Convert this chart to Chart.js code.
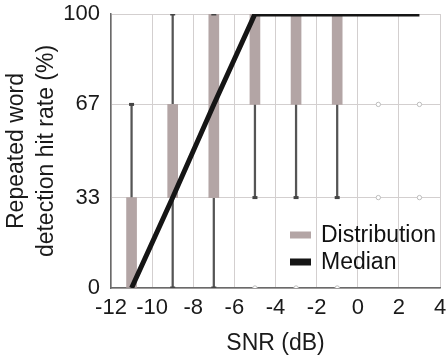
<!DOCTYPE html>
<html>
<head>
<meta charset="utf-8">
<script src="https://cdn.jsdelivr.net/npm/chart.js@4/dist/chart.umd.min.js"></script>
<style>
  html, body { margin: 0; padding: 0; background: #ffffff; }
  #wrap { width: 447px; height: 360px; }
</style>
</head>
<body>
<div id="wrap"><canvas id="c" width="447" height="360"></canvas></div>
<script>
// ---- data ----
const snr        = [-11, -9, -7, -5, -3, -1, 1, 3];        // SNR (dB)
const boxLow     = [0, 33, 33, 67, 67, 67, 100, 100];      // 25th percentile
const boxHigh    = [33, 67, 100, 100, 100, 100, 100, 100]; // 75th percentile
const whiskerLow = [0, 0, 0, 33, 33, 33, 100, 100];
const whiskerHigh= [67, 100, 100, 100, 100, 100, 100, 100];
const medians    = [0, 33, 67, 100, 100, 100, 100, 100];
const outlierSnr = [-5, -3, -1, 1, 1, 3, 3];
const outlierVal = [0, 0, 0, 67, 33, 67, 33];
const yTicks     = [0, 33, 67, 100];
const xMin = -12, xMax = 4, xStep = 2;

const boxColor = '#b3a5a5';
const whiskColor = '#555555';
const FONT = '"Liberation Sans", Arial, Helvetica, sans-serif';

const boxData = [], whiskData = [], capData = [];
snr.forEach((x, i) => {
  if (boxHigh[i] > boxLow[i]) boxData.push({x: x, y: [boxLow[i], boxHigh[i]]});
  if (boxLow[i] > whiskerLow[i]) { whiskData.push({x: x, y: [whiskerLow[i], boxLow[i]]}); capData.push({x: x, y: whiskerLow[i]}); }
  if (whiskerHigh[i] > boxHigh[i]) { whiskData.push({x: x, y: [boxHigh[i], whiskerHigh[i]]}); capData.push({x: x, y: whiskerHigh[i]}); }
});
snr.forEach((x, i) => {
  if (boxHigh[i] === 100 && whiskerHigh[i] === 100 && boxLow[i] < 100) capData.push({x: x, y: 100});
});
const outData = outlierSnr.map((x, i) => ({x: x, y: outlierVal[i]}));
const medData = snr.map((x, i) => ({x: x, y: medians[i]}));

const legendItems = [
  {label: 'Distribution', color: boxColor},
  {label: 'Median', color: '#151515'}
];

const legendPlugin = {
  id: 'insideLegend',
  afterDraw(chart) {
    const ctx = chart.ctx;
    ctx.save();
    ctx.font = '23px ' + FONT;
    ctx.textBaseline = 'middle';
    ctx.textAlign = 'left';
    const ys = [235, 262];
    legendItems.forEach((it, k) => {
      ctx.fillStyle = it.color;
      ctx.fillRect(290, ys[k] - 3.5, 21, 7);
      ctx.fillStyle = '#111111';
      ctx.fillText(it.label, 321, ys[k] + 1);
    });
    ctx.restore();
  }
};

new Chart(document.getElementById('c'), {
  type: 'bar',
  data: {
    datasets: [
      {
        type: 'line', label: 'Median', data: medData, order: 0,
        borderColor: '#151515', borderWidth: 5, pointRadius: 0,
        borderJoinStyle: 'miter', borderCapStyle: 'butt', tension: 0, fill: false
      },
      {
        type: 'scatter', label: 'outliers', data: outData, order: 1,
        pointStyle: 'circle', pointRadius: 2.2, borderWidth: 1,
        borderColor: '#bdbdbd', backgroundColor: '#ffffff'
      },
      {
        type: 'scatter', label: 'caps', data: capData, order: 2,
        pointStyle: 'line', pointRadius: 2.5, borderWidth: 3,
        borderColor: '#444444'
      },
      {
        type: 'bar', label: 'Distribution', data: boxData, order: 3,
        backgroundColor: boxColor, barThickness: 10, grouped: false, borderWidth: 0
      },
      {
        type: 'bar', label: 'whiskers', data: whiskData, order: 4,
        backgroundColor: whiskColor, barThickness: 1.6, grouped: false, borderWidth: 0
      }
    ]
  },
  options: {
    responsive: false,
    animation: false,
    devicePixelRatio: 1,
    layout: { padding: { left: 0, right: 6, top: 14, bottom: 0 } },
    plugins: { legend: { display: false }, tooltip: { enabled: false } },
    scales: {
      x: {
        type: 'linear', min: xMin, max: xMax, offset: false,
        ticks: { stepSize: xStep, color: '#1a1a1a', font: { family: FONT, size: 22 }, padding: 7,
                 maxRotation: 0, autoSkip: false },
        grid: { color: '#d3cfcf', lineWidth: 1, drawTicks: false, offset: false },
        border: { color: '#6a6a6a', width: 1.5 },
        title: { display: true, text: 'SNR (dB)', color: '#1a1a1a',
                 font: { family: FONT, size: 23, lineHeight: 1.2 }, padding: { top: 0, bottom: 3 } },
        afterFit(scale) { scale.height = 72; scale.paddingLeft = 0; scale.paddingRight = 0; }
      },
      y: {
        type: 'linear', min: 0, max: 100,
        afterBuildTicks(scale) { scale.ticks = yTicks.map(v => ({value: v})); },
        ticks: { color: '#1a1a1a', font: { family: FONT, size: 22 }, padding: 11,
                 callback: v => String(v) },
        grid: { color: '#d3cfcf', lineWidth: 1, drawTicks: false },
        border: { color: '#6a6a6a', width: 1.5 },
        title: { display: true, text: ['Repeated word', 'detection hit rate (%)'], color: '#1a1a1a',
                 font: { family: FONT, size: 23, lineHeight: '30px' }, padding: { top: 2, bottom: 0 } },
        afterFit(scale) { scale.width = 111; scale.paddingTop = 0; scale.paddingBottom = 0; }
      }
    }
  },
  plugins: [legendPlugin]
});
</script>
</body>
</html>
